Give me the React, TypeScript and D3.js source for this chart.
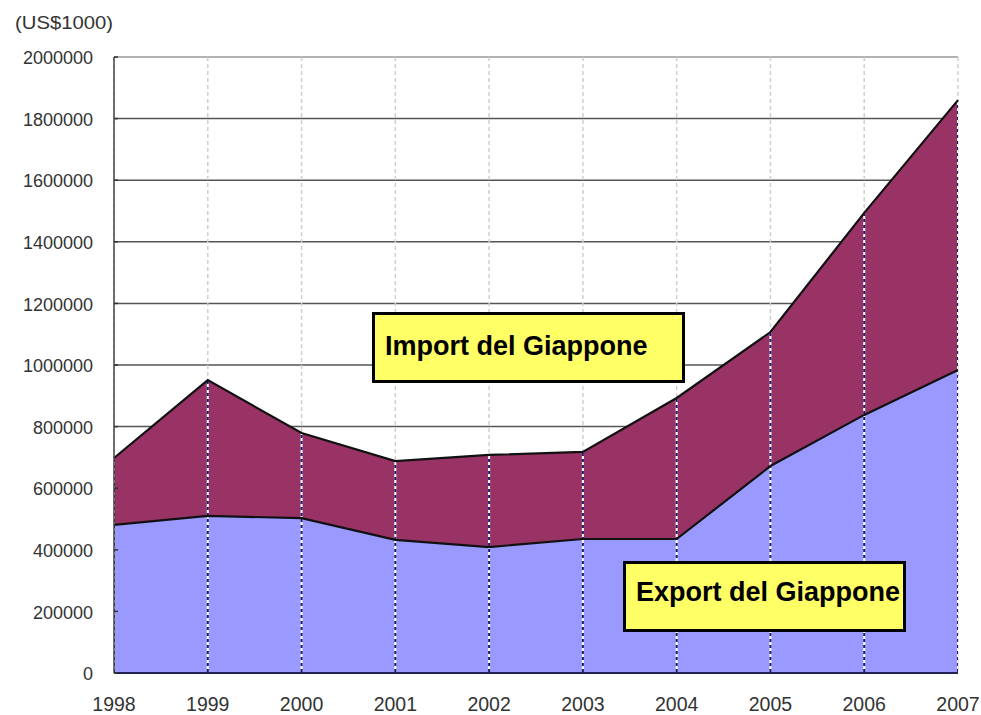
import React from "react";
import * as d3 from "d3";

// values in US$1000
const years = [1998, 1999, 2000, 2001, 2002, 2003, 2004, 2005, 2006, 2007];
const exportVals = [481000, 510000, 503000, 432000, 409000, 435000, 435000, 672000, 838000, 984000];
const importVals = [217000, 441000, 276000, 256000, 299000, 283000, 458000, 435000, 656000, 876000];
const yTicks = [0, 200000, 400000, 600000, 800000, 1000000, 1200000, 1400000, 1600000, 1800000, 2000000];

const W = 981;
const H = 715;
const left = 114;
const right = 958;
const top = 57;
const bottom = 673;

const App = () => {
  const rows = years.map((y, i) => ({ year: y, export: exportVals[i], import: importVals[i] }));
  const series = d3.stack<any>().keys(["export", "import"])(rows);

  const x = d3.scaleLinear().domain([years[0], years[years.length - 1]]).range([left, right]);
  const y = d3.scaleLinear().domain([0, 2000000]).range([bottom, top]);

  const area = d3.area<any>()
    .x(d => x(d.data.year))
    .y0(d => y(d[0]))
    .y1(d => y(d[1]));
  const topLine = d3.line<any>()
    .x(d => x(d.data.year))
    .y(d => y(d[1]));
  const totalArea = d3.area<any>()
    .x(d => x(d.data.year))
    .y0(y(0))
    .y1(d => y(d[1]));

  const colors = ["#9999ff", "#993366"];
  const tickFont = "'Liberation Sans', Arial, sans-serif";

  return (
    <svg width={W} height={H} style={{ position: "absolute", left: 0, top: 0, background: "#fff" }}>
      <defs>
        <clipPath id="filled">
          <path d={totalArea(series[1]) || ""} />
        </clipPath>
      </defs>

      {/* horizontal grid */}
      {yTicks.map(t => (
        <line key={"g" + t} x1={left} x2={right} y1={y(t)} y2={y(t)}
          stroke={t === 2000000 ? "#999" : "#555"} strokeWidth={1.5} />
      ))}
      {/* vertical dashed grid on white */}
      {years.map(yr => (
        <line key={"v" + yr} x1={x(yr)} x2={x(yr)} y1={top} y2={bottom}
          stroke="#cfcfcf" strokeWidth={1.5} strokeDasharray="4,3" />
      ))}

      {series.map((s, i) => (
        <path key={"a" + i} d={area(s) || ""} fill={colors[i]} />
      ))}

      {/* vertical dashed grid over filled areas */}
      <g clipPath="url(#filled)">
        {years.map(yr => (
          <g key={"vf" + yr}>
            <line x1={x(yr)} x2={x(yr)} y1={top} y2={bottom} stroke="#fff" strokeWidth={2} />
            <line x1={x(yr)} x2={x(yr)} y1={top} y2={bottom} stroke="#1a1a66" strokeWidth={2} strokeDasharray="3,3" />
          </g>
        ))}
      </g>

      {series.map((s, i) => (
        <path key={"l" + i} d={topLine(s) || ""} fill="none" stroke="#111" strokeWidth={2.2} />
      ))}

      {/* axes */}
      <line x1={left} x2={left} y1={top} y2={bottom} stroke="#444" strokeWidth={1.5} />
      <line x1={left} x2={right} y1={bottom} y2={bottom} stroke="#222255" strokeWidth={2} />
      {yTicks.map(t => (
        <line key={"t" + t} x1={left} x2={left + 4} y1={y(t)} y2={y(t)} stroke="#333" strokeWidth={1.5} />
      ))}

      {yTicks.map(t => (
        <text key={"yl" + t} x={93} y={y(t)} dy="0.4em" textAnchor="end"
          fontFamily={tickFont} fontSize={18} fill="#333">{t}</text>
      ))}
      {years.map(yr => (
        <text key={"xl" + yr} x={x(yr)} y={711} textAnchor="middle"
          fontFamily={tickFont} fontSize={19.5} fill="#333">{yr}</text>
      ))}
      <text x={15} y={29} fontFamily={tickFont} fontSize={18} fill="#333"
        textLength={98} lengthAdjust="spacingAndGlyphs">(US$1000)</text>

      {/* labels */}
      <rect x={373.5} y={313.5} width={310} height={68} fill="#ffff66" stroke="#000" strokeWidth={3} />
      <text x={385} y={355} fontFamily="'Liberation Sans', Arial, sans-serif" fontWeight="bold"
        fontSize={27} fill="#000">Import del Giappone</text>
      <rect x={624.5} y={562.5} width={280} height={68} fill="#ffff66" stroke="#000" strokeWidth={3} />
      <text x={636} y={601} fontFamily="'Liberation Sans', Arial, sans-serif" fontWeight="bold"
        fontSize={27} fill="#000">Export del Giappone</text>
    </svg>
  );
};

export default App;
